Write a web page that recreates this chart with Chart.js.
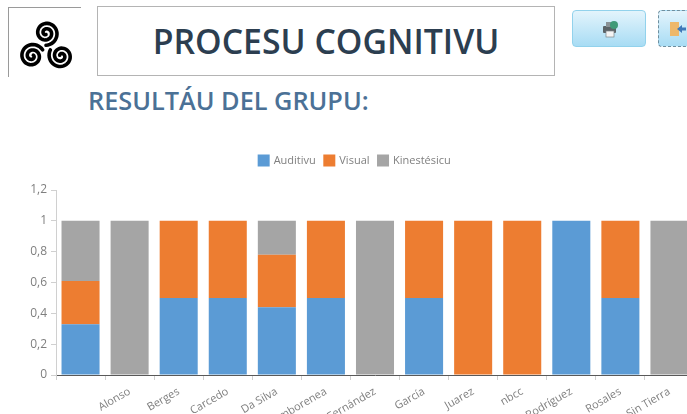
<!DOCTYPE html>
<html><head><meta charset="utf-8">
<script src="https://cdn.jsdelivr.net/npm/chart.js@4"></script>
<style>
html,body{margin:0;padding:0;background:#fff;overflow:hidden}
#page{position:relative;width:687px;height:414px;overflow:hidden;font-family:"Open Sans",sans-serif}
#page>*{position:absolute;box-sizing:border-box}
#logo{left:8px;top:7px;width:73px;height:70px;border-left:1px solid #9a9a9a;border-top:1px solid #9a9a9a}
#titleBox{left:97px;top:6px;width:458px;height:70px;border:1px solid #b4b4b4;color:#2c3e50;font-size:33.8px;font-weight:600;text-align:center;line-height:69px;white-space:nowrap}
#sub{left:88px;top:82px;color:#4b7196;font-size:25.3px;font-weight:600;line-height:36px;white-space:nowrap}
.btn{top:10px;width:74px;height:37px;border-radius:4px;background:linear-gradient(#e3f4fc,#a8dcf4);border:1px solid #92d2ec}
#b2{left:658px;border:1px dashed #6f8f9f}
#b1{left:572px}
.btn svg{position:absolute;top:8px}
#b1 svg{left:27px}
#b2 svg{left:9px}
canvas{left:0;top:140px}
</style></head><body>
<div id="page">
<svg id="logo" viewBox="0 0 72 69" width="73" height="70"><g id="tri" fill="none" stroke="#000" stroke-width="3.6" stroke-linecap="round"></g></svg>
<div id="titleBox">PROCESU COGNITIVU</div>
<div id="sub">RESULTÁU DEL GRUPU:</div>
<div class="btn" id="b1"><svg width="20" height="20" viewBox="0 0 20 20"><rect x="3" y="7" width="13" height="7" rx="1" fill="#5b6468"/><rect x="6" y="3" width="7" height="5" fill="#8a9296"/><rect x="6" y="12" width="8" height="6" fill="#f4f4f4" stroke="#7c8488" stroke-width=".7"/><circle cx="14" cy="6" r="4" fill="#3f9a78"/></svg></div>
<div class="btn" id="b2"><svg width="20" height="20" viewBox="0 0 20 20"><rect x="2" y="3" width="9" height="14" fill="#eeb86a"/><path d="M9 10l5-4v2.5h4v3h-4V14z" fill="#3f78b8"/></svg></div>
<canvas id="c" width="708" height="290" style="position:absolute"></canvas>
</div>
<script>
const categories = ["", "Alonso", "Berges", "Carcedo", "Da Silva", "Zamborenea", "Fernández", "García", "Juarez", "nbcc", "Rodríguez", "Rosales", "Sin Tierra"];
const auditivu =   [0.33, 0, 0.5, 0.5, 0.44, 0.5, 0, 0.5, 0, 0, 1, 0.5, 0];
const visual =     [0.28, 0, 0.5, 0.5, 0.34, 0.5, 0, 0.5, 1, 1, 0, 0.5, 0];
const kinestesicu =[0.39, 1, 0, 0, 0.22, 0, 1, 0, 0, 0, 0, 0, 1];
const seriesNames = ["Auditivu", "Visual", "Kinestésicu"];
const yTicks = [0, 0.2, 0.4, 0.6, 0.8, 1, 1.2];

// triskele logo decoration
const g = document.getElementById('tri');
[[37,25,-90],[23,48,150],[52,48,30]].forEach(([cx,cy,a0])=>{
  let d='';
  for(let i=0;i<=80;i++){
    const t=i/80, r=1.5+10.8*t, a=(a0+720*t+180)*Math.PI/180;
    d+=(i?'L':'M')+(cx+r*Math.cos(a)).toFixed(2)+' '+(cy+r*Math.sin(a)).toFixed(2);
  }
  const p=document.createElementNS('http://www.w3.org/2000/svg','path');
  p.setAttribute('d',d);g.appendChild(p);
});

const txt = '#7f7f7f', font = {family:'"Open Sans", sans-serif', size:12};
const ds = (label,data,color)=>({label,data,backgroundColor:color,borderWidth:0,barPercentage:0.775,categoryPercentage:1,stack:'s'});
const legendShift = {
  id:'legendShift',
  afterLayout(chart){ chart.legend.left += 8; chart.legend.right += 8; }
};
new Chart(document.getElementById('c'),{
  type:'bar',
  data:{labels:categories,datasets:[ds(seriesNames[0],auditivu,'#5b9bd5'),ds(seriesNames[1],visual,'#ed7d31'),ds(seriesNames[2],kinestesicu,'#a5a5a5')]},
  plugins:[legendShift],
  options:{
    responsive:false,animation:false,
    layout:{padding:{left:0,right:14,top:6,bottom:0}},
    plugins:{tooltip:{enabled:false},
      title:{display:true,text:' ',position:'top',font:{size:10,lineHeight:1},padding:{top:0,bottom:4}},
      legend:{position:'top',weight:3000,labels:{color:txt,boxWidth:9,boxHeight:9,padding:9,font:{family:font.family,size:11},
      generateLabels(chart){
        return Chart.defaults.plugins.legend.labels.generateLabels(chart).map(l=>({...l,strokeStyle:l.fillStyle,lineWidth:3}));
      }}}},
    scales:{
      x:{stacked:true,
        border:{color:'#595959',width:1},
        grid:{display:true,drawOnChartArea:false,offset:true,color:'#d0d0d0',tickLength:5},
        ticks:{color:txt,font:{family:font.family,size:11},minRotation:30,maxRotation:30,autoSkip:false,padding:5},
        afterFit(s){s.height=55;}},
      y:{stacked:true,min:0,max:1.2,
        border:{color:'#d0d0d0',width:1},
        grid:{display:true,drawOnChartArea:false,color:'#d0d0d0',tickLength:5},
        afterBuildTicks(s){s.ticks=yTicks.map(v=>({value:v}));},
        ticks:{color:txt,font,padding:4,callback:v=>String(v).replace('.',',')},
        afterFit(s){s.width=56;}}
    }
  }
});
</script>
</body></html>
